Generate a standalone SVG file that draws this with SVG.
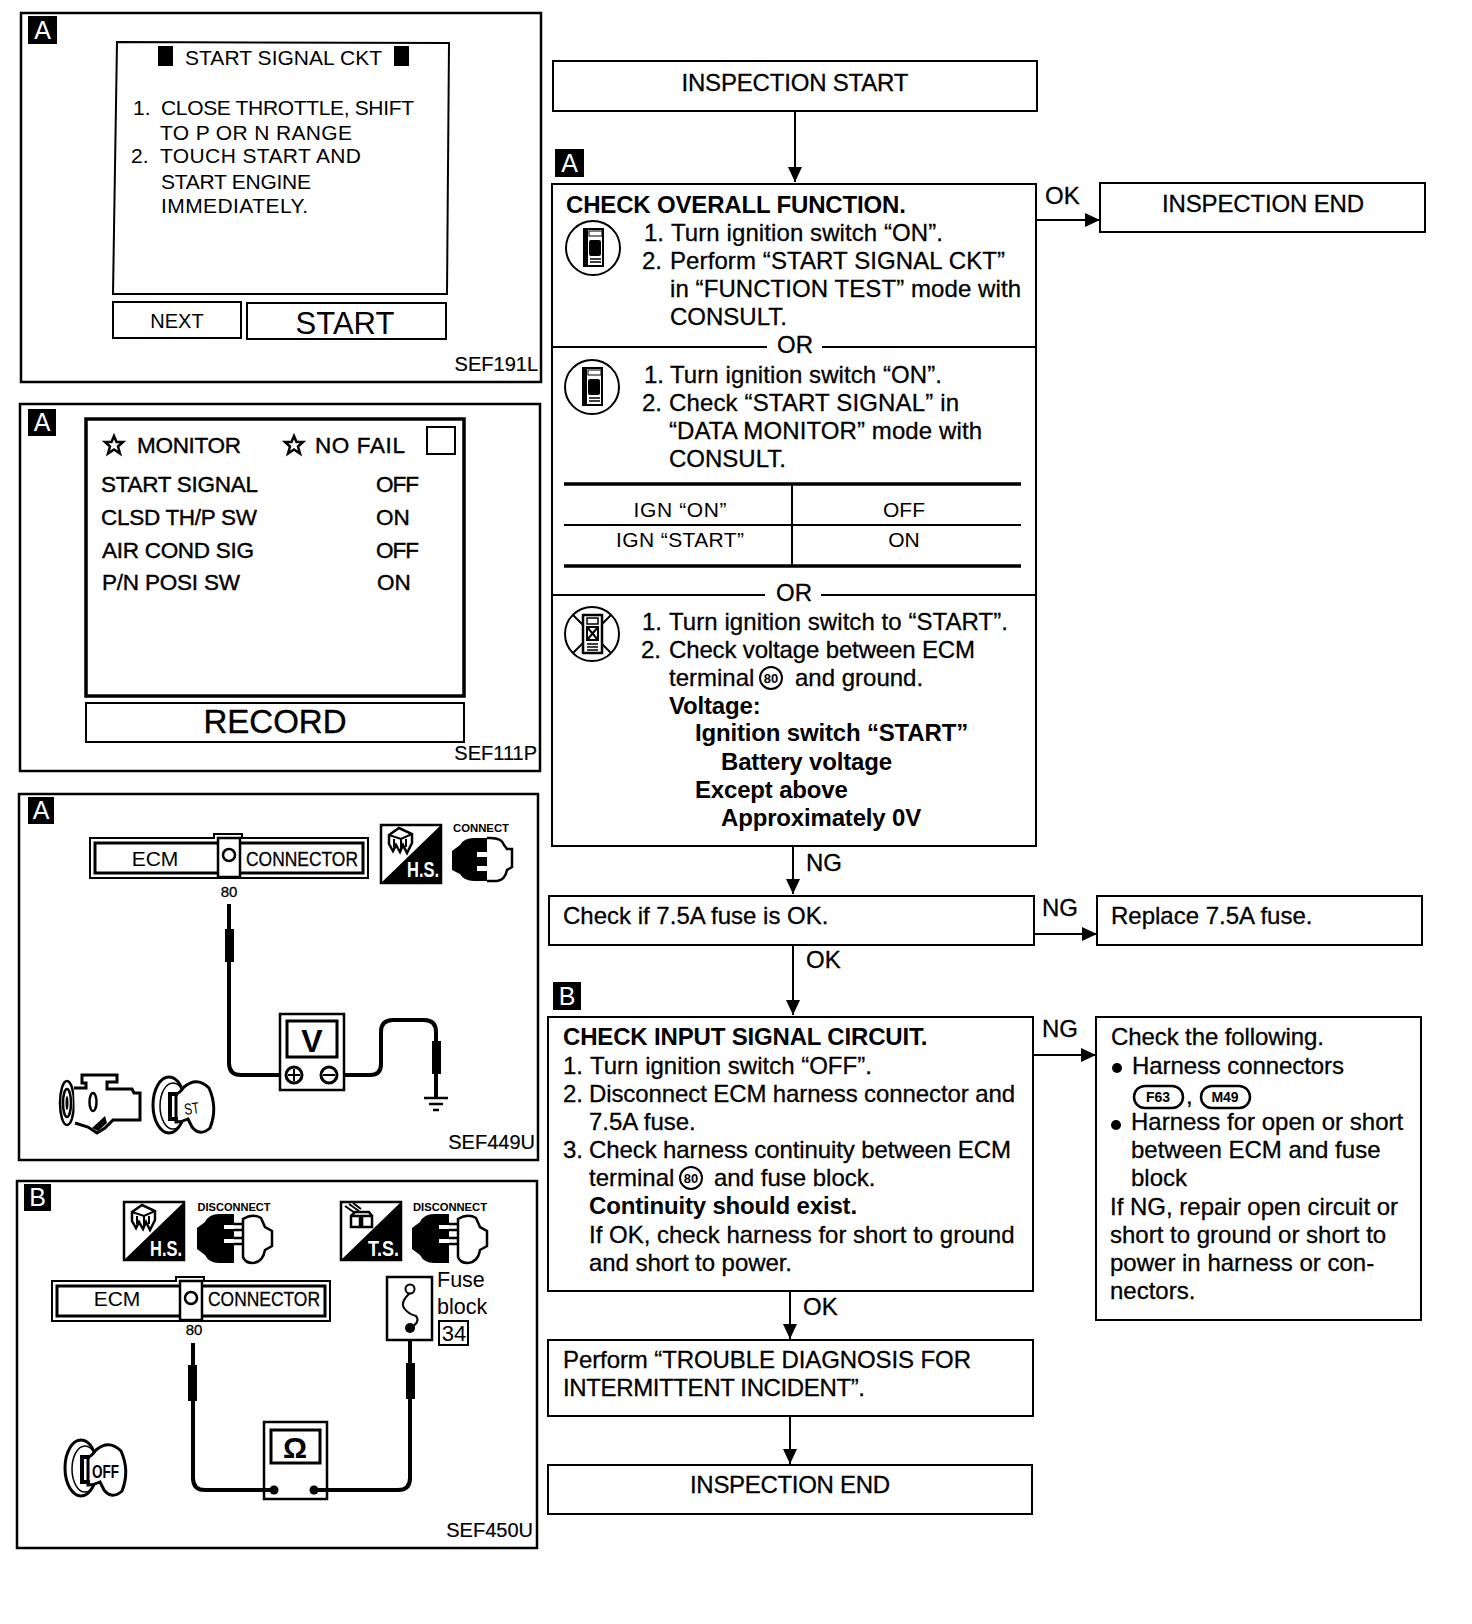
<svg xmlns="http://www.w3.org/2000/svg" xmlns:xlink="http://www.w3.org/1999/xlink" width="1472" height="1624" viewBox="0 0 1472 1624">
<style>
text{font-family:"Liberation Sans",Arial,sans-serif;fill:#000}
.t{font-size:24px;stroke:#000;stroke-width:.3px}
.b{font-size:24px;font-weight:bold;letter-spacing:-.17px}
.m{text-anchor:middle}
.box{fill:#fff;stroke:#000;stroke-width:2}
.pan{fill:#fff;stroke:#000;stroke-width:2.5}
.ln{fill:none;stroke:#000;stroke-width:2}
.w{fill:none;stroke:#000;stroke-width:4;stroke-linejoin:round}
.k{fill:#000}
.sef{font-size:20px;text-anchor:end;stroke:#000;stroke-width:.2px}
.scr{font-size:21px}
.mon{font-size:22.500px;stroke:#000;stroke-width:.4px}
.bt{font-size:25px;fill:#fff}
.tiny{font-size:11px;font-weight:bold;text-anchor:middle}
.wb{font-size:22px;font-weight:bold;fill:#fff}
</style>
<defs>
<marker id="arr" markerUnits="userSpaceOnUse" markerWidth="16" markerHeight="14" refX="15" refY="7" orient="auto"><path d="M0 0L15 7L0 14Z" fill="#000"/></marker>
<g id="device"><rect x="-9" y="-19" width="19" height="37" fill="#fff" stroke="#000" stroke-width="2"/><rect x="-10" y="-19" width="5" height="37" fill="#000"/><rect x="-4" y="-17" width="13" height="5" fill="#fff" stroke="#000" stroke-width="1"/><rect x="-4" y="-8" width="12" height="16" rx="2" fill="#000"/><path d="M-3 11H8M-3 14H8" stroke="#000" stroke-width="1.500"/></g>
<g id="consult"><circle r="27" fill="#fff" stroke="#000" stroke-width="2"/><use xlink:href="#device" href="#device"/></g>
<g id="corner"><path d="M0 0H60V58H0Z" fill="#fff" stroke="#000" stroke-width="2.500"/><path d="M60 0V58H0Z" fill="#000"/></g>
<g id="heat"><path d="M8 10L18 3L31 9V18L26 28L22 20L19 27L15 20L12 26L8 19Z" fill="#fff" stroke="#000" stroke-width="2.500"/><path d="M8 10L20 14L31 9M20 14V24M13 14V22M25 14V22" class="ln"/></g>
<g id="cubes"><path d="M4 4L14 11M8 2L18 9M12 1L20 7" class="ln"/><path d="M10 14H19V25H10ZM21 14H31V25H21ZM10 14L14 10H28L31 14" fill="#fff" stroke="#000" stroke-width="2.500"/></g>
<g id="plugon"><path d="M8 8Q12 1 22 1H35V15H25V20H35V29H25V34H35V44H22Q12 44 8 37L0 33V14Z" fill="#000"/><path d="M35 1Q50 0 52 8L55 12H60V30L55 33Q53 43 45 44H35" fill="#fff" stroke="#000" stroke-width="2.500"/><path d="M35 15H25V20H35M35 29H25V34H35" fill="#fff"/></g>
<g id="plugoff"><path d="M8 9Q12 1 22 1H37V12H27V16H37V26H27V30H37V50H22Q12 50 8 42L0 36V15Z" fill="#000"/><path d="M46 6Q56 0 64 5L68 14L75 18V33L68 37Q66 49 56 50Q48 50 46 44V6Z" fill="#fff" stroke="#000" stroke-width="2.500"/><path d="M37 11H47M37 17H47M37 25H47M37 31H47" stroke="#000" stroke-width="2.500"/></g>
<g id="key"><ellipse cx="17" cy="30" rx="16" ry="28" fill="#fff" stroke="#000" stroke-width="3"/><ellipse cx="21" cy="31" rx="13" ry="23" fill="none" stroke="#000" stroke-width="1.500"/><path d="M32 12Q45 1 57 13Q66 33 58 53Q48 62 40 52L36 44Q30 47 24 47V19Q28 18 32 12Z" fill="#fff" stroke="#000" stroke-width="3"/><path d="M26 19H18V44H26" fill="none" stroke="#000" stroke-width="4"/></g>
<g id="conn"><path d="M0 4H124V0H152V4H278V44H0Z" fill="#fff" stroke="#000" stroke-width="2"/><rect x="5" y="9" width="268" height="30" fill="#fff" stroke="#000" stroke-width="3"/><rect x="128" y="4" width="22" height="39" fill="#fff" stroke="#000" stroke-width="2.500"/><circle cx="139" cy="21" r="6" fill="#fff" stroke="#000" stroke-width="2.500"/></g>
</defs>
<rect width="1472" height="1624" fill="#fff"/>

<g id="panel1">
<rect class="pan" x="21" y="13" width="520" height="369"/>
<rect class="k" x="28" y="16" width="29" height="28"/><text class="bt m" x="42.500" y="39">A</text>
<path class="ln" d="M117 42L449 43L447 294H113Z" stroke-width="2.500"/>
<rect class="k" x="158" y="46" width="15" height="20"/><rect class="k" x="394" y="46" width="15" height="20"/>
<text class="scr" x="185" y="65" textLength="197">START SIGNAL CKT</text>
<text class="scr" x="133" y="115">1.</text><text class="scr" x="161" y="115" textLength="253">CLOSE THROTTLE, SHIFT</text>
<text class="scr" x="160" y="140" textLength="192">TO P OR N RANGE</text>
<text class="scr" x="131" y="163">2.</text><text class="scr" x="160" y="163" textLength="201">TOUCH START AND</text>
<text class="scr" x="161" y="189" textLength="150">START ENGINE</text>
<text class="scr" x="161" y="213" textLength="147">IMMEDIATELY.</text>
<rect class="box" x="113" y="302" width="128" height="36"/><text class="m" x="177" y="328" font-size="20">NEXT</text>
<rect class="box" x="247" y="303" width="199" height="36" stroke-width="2.500"/><text class="m" x="345" y="334" font-size="31">START</text>
<text class="sef" x="538" y="371">SEF191L</text>
</g>

<g id="panel2">
<rect class="pan" x="20" y="404" width="520" height="367"/>
<rect class="k" x="28" y="409" width="28" height="27"/><text class="bt m" x="42" y="431">A</text>
<rect x="86" y="419" width="378" height="277" fill="#fff" stroke="#000" stroke-width="3.500"/>
<rect class="box" x="86" y="703" width="378" height="39" stroke-width="3"/><text class="m" x="275" y="733" font-size="33" stroke="#000" stroke-width=".4">RECORD</text>
<path d="M114 436l2.500 6h6.500l-5 4.500 2 7-6-4-6 4 2-7-5-4.500h6.500Z" fill="#fff" stroke="#000" stroke-width="2.500"/>
<path d="M294 436l2.500 6h6.500l-5 4.500 2 7-6-4-6 4 2-7-5-4.500h6.500Z" fill="#fff" stroke="#000" stroke-width="2.500"/>
<text class="mon" x="137" y="453" textLength="104">MONITOR</text><text class="mon" x="315" y="453" textLength="90">NO  FAIL</text>
<rect class="box" x="427" y="427" width="28" height="27" stroke-width="2.500"/>
<text class="mon" x="101" y="492" textLength="157">START SIGNAL</text><text class="mon" x="376" y="492" textLength="43">OFF</text>
<text class="mon" x="101" y="525" textLength="156">CLSD TH/P SW</text><text class="mon" x="376" y="525">ON</text>
<text class="mon" x="102" y="558" textLength="152">AIR COND SIG</text><text class="mon" x="376" y="558" textLength="43">OFF</text>
<text class="mon" x="102" y="590" textLength="138">P/N POSI SW</text><text class="mon" x="377" y="590">ON</text>
<text class="sef" x="537" y="760">SEF111P</text>
</g>

<g id="panel3">
<rect class="pan" x="19" y="794" width="519" height="366"/>
<rect class="k" x="28" y="797" width="26" height="27"/><text class="bt m" x="41" y="819">A</text>
<use xlink:href="#conn" href="#conn" x="90" y="834"/>
<text class="m" x="155" y="866" font-size="21">ECM</text>
<text x="246" y="866" font-size="20" textLength="112" lengthAdjust="spacingAndGlyphs" stroke="#000" stroke-width=".3">CONNECTOR</text>
<text class="m" x="229" y="897" font-size="15" stroke="#000" stroke-width=".3">80</text>
<path class="w" d="M229 904V1063Q229 1075 241 1075H286"/>
<rect class="k" x="225" y="929" width="9" height="33"/>
<path class="w" d="M337 1075H370Q381 1075 381 1064V1032Q381 1020 393 1020H424Q436 1020 436 1032V1098"/>
<rect class="k" x="432" y="1041" width="9" height="33"/>
<path d="M424 1098H448M429 1104H443M433 1110H439" stroke="#000" stroke-width="2.500"/>
<rect x="280" y="1014" width="64" height="76" fill="#fff" stroke="#000" stroke-width="2.500"/>
<rect x="287" y="1021" width="50" height="36" fill="#fff" stroke="#000" stroke-width="3"/>
<text class="m" x="312" y="1052" font-size="32" font-weight="bold">V</text>
<circle cx="294" cy="1075" r="8" fill="#fff" stroke="#000" stroke-width="3"/><path d="M288 1075h12M294 1069v12" stroke="#000" stroke-width="2"/>
<circle cx="329" cy="1075" r="8" fill="#fff" stroke="#000" stroke-width="3"/><path d="M323 1075h12" stroke="#000" stroke-width="2"/>
<use xlink:href="#corner" href="#corner" x="381" y="825"/><use xlink:href="#heat" href="#heat" x="381" y="825"/>
<text class="wb" x="407" y="877" textLength="32" lengthAdjust="spacingAndGlyphs">H.S.</text>
<text class="tiny" x="481" y="832" textLength="56" lengthAdjust="spacingAndGlyphs">CONNECT</text>
<use xlink:href="#plugon" href="#plugon" x="452" y="837"/>
<ellipse cx="67" cy="1103" rx="7" ry="22" fill="#fff" stroke="#000" stroke-width="2.500"/><ellipse cx="67" cy="1103" rx="4" ry="14" fill="none" stroke="#000" stroke-width="2.500"/><ellipse cx="67" cy="1103" rx="1.500" ry="7" fill="#000"/>
<path d="M74 1088H86V1083H82V1075H117V1082H107V1089H132L134 1093H140V1120H113L105 1128L97 1133L88 1127L75 1123" fill="#fff" stroke="#000" stroke-width="3"/>
<ellipse cx="93" cy="1102" rx="3.500" ry="9" fill="#fff" stroke="#000" stroke-width="2.500"/><path d="M92 1128L105 1116L107 1123L98 1131Z" fill="#000"/>
<use xlink:href="#key" href="#key" x="152" y="1075"/>
<text x="185" y="1115" font-size="16" textLength="15" lengthAdjust="spacingAndGlyphs" transform="rotate(-8 185 1115)">ST</text>
<text class="sef" x="535" y="1149">SEF449U</text>
</g>

<g id="panel4">
<rect class="pan" x="17" y="1181" width="520" height="367"/>
<rect class="k" x="24" y="1184" width="27" height="27"/><text class="bt m" x="37.500" y="1206">B</text>
<use xlink:href="#corner" href="#corner" x="124" y="1202"/><use xlink:href="#heat" href="#heat" x="124" y="1202"/>
<text class="wb" x="150" y="1256" textLength="32" lengthAdjust="spacingAndGlyphs">H.S.</text>
<text class="tiny" x="234" y="1211" textLength="73" lengthAdjust="spacingAndGlyphs">DISCONNECT</text>
<use xlink:href="#plugoff" href="#plugoff" x="197" y="1213"/>
<use xlink:href="#corner" href="#corner" x="341" y="1202"/><use xlink:href="#cubes" href="#cubes" x="341" y="1202"/>
<text class="wb" x="368" y="1256" textLength="31" lengthAdjust="spacingAndGlyphs">T.S.</text>
<text class="tiny" x="450" y="1211" textLength="74" lengthAdjust="spacingAndGlyphs">DISCONNECT</text>
<use xlink:href="#plugoff" href="#plugoff" x="412" y="1213"/>
<use xlink:href="#conn" href="#conn" x="52" y="1277"/>
<text class="m" x="117" y="1306" font-size="21">ECM</text>
<text x="208" y="1306" font-size="20" textLength="112" lengthAdjust="spacingAndGlyphs" stroke="#000" stroke-width=".3">CONNECTOR</text>
<text class="m" x="194" y="1335" font-size="15" stroke="#000" stroke-width=".3">80</text>
<path class="w" d="M193 1343V1478Q193 1490 205 1490H274"/>
<rect class="k" x="188" y="1365" width="9" height="36"/>
<rect x="264" y="1422" width="63" height="77" fill="#fff" stroke="#000" stroke-width="2.500"/>
<rect x="271" y="1430" width="49" height="33" fill="#fff" stroke="#000" stroke-width="3"/>
<text class="m" x="295" y="1458" font-size="30" font-weight="bold">Ω</text>
<path class="w" d="M274 1490H264M314 1490H398Q410 1490 410 1478V1340"/>
<rect class="k" x="406" y="1363" width="9" height="36"/>
<circle class="k" cx="274" cy="1490" r="4.500"/><circle class="k" cx="314" cy="1490" r="4.500"/>
<rect x="387" y="1277" width="45" height="63" fill="#fff" stroke="#000" stroke-width="2.500"/>
<path class="ln" d="M410 1293Q400 1302 404 1308Q408 1314 416 1316Q421 1322 410 1328"/>
<circle cx="410" cy="1289" r="4.500" fill="#fff" stroke="#000" stroke-width="2"/>
<circle class="k" cx="410" cy="1328" r="5"/>
<text x="437" y="1287" font-size="21.500">Fuse</text>
<text x="437" y="1314" font-size="21.500">block</text>
<rect class="box" x="439" y="1321" width="29" height="24"/><text class="m" x="454" y="1341" font-size="22">34</text>
<use xlink:href="#key" href="#key" x="64" y="1438"/>
<text x="92" y="1478" font-size="18" font-weight="bold" textLength="27" lengthAdjust="spacingAndGlyphs">OFF</text>
<text class="sef" x="533" y="1537">SEF450U</text>
</g>

<g id="connectors">
<path class="ln" marker-end="url(#arr)" d="M795 111V182"/>
<path class="ln" marker-end="url(#arr)" d="M1036 220H1100"/>
<path class="ln" marker-end="url(#arr)" d="M793 846V894"/>
<path class="ln" marker-end="url(#arr)" d="M1034 934H1097"/>
<path class="ln" marker-end="url(#arr)" d="M793 945V1015"/>
<path class="ln" marker-end="url(#arr)" d="M1033 1055H1096"/>
<path class="ln" marker-end="url(#arr)" d="M790 1291V1339"/>
<path class="ln" marker-end="url(#arr)" d="M790 1416V1464"/>
<text class="t" x="1045" y="204">OK</text>
<text class="t" x="806" y="871">NG</text>
<text class="t" x="1042" y="916">NG</text>
<text class="t" x="806" y="968">OK</text>
<text class="t" x="1042" y="1037">NG</text>
<text class="t" x="803" y="1315">OK</text>
</g>

<g id="start"><rect class="box" x="553" y="61" width="484" height="50"/><text class="t m" x="795" y="91" textLength="227">INSPECTION START</text></g>

<g id="badgeA"><rect class="k" x="555" y="149" width="29" height="28"/><text class="bt m" x="569.500" y="172">A</text></g>

<g id="check-overall">
<rect class="box" x="552" y="184" width="484" height="662"/>
<path class="ln" d="M552 347H767M822 347H1036M552 595H765M821 595H1036"/>
<text class="b" x="566" y="213">CHECK OVERALL FUNCTION.</text>
<use xlink:href="#consult" href="#consult" x="593" y="248"/>
<text class="t" x="644" y="241">1.</text><text class="t" x="671" y="241" textLength="272">Turn ignition switch “ON”.</text>
<text class="t" x="642" y="269">2.</text><text class="t" x="670" y="269" textLength="335">Perform “START SIGNAL CKT”</text>
<text class="t" x="670" y="297" textLength="351">in “FUNCTION TEST” mode with</text>
<text class="t" x="670" y="325">CONSULT.</text>
<text class="t m" x="795" y="353">OR</text>
<use xlink:href="#consult" href="#consult" x="592" y="387"/>
<text class="t" x="644" y="383">1.</text><text class="t" x="670" y="383" textLength="272">Turn ignition switch “ON”.</text>
<text class="t" x="642" y="411">2.</text><text class="t" x="669" y="411" textLength="290">Check “START SIGNAL” in</text>
<text class="t" x="669" y="439" textLength="313">“DATA MONITOR” mode with</text>
<text class="t" x="669" y="467">CONSULT.</text>
<path d="M564 484H1021M564 566H1021" stroke="#000" stroke-width="3.500"/>
<path class="ln" d="M564 525H1021M792 484V566"/>
<text class="m" x="680" y="517" font-size="21" textLength="93">IGN “ON”</text><text class="m" x="904" y="517" font-size="21">OFF</text>
<text class="m" x="680" y="547" font-size="21" textLength="128">IGN “START”</text><text class="m" x="904" y="547" font-size="21">ON</text>
<text class="t m" x="794" y="601">OR</text>
<g transform="translate(592 634)"><circle r="27" fill="#fff" stroke="#000" stroke-width="2"/><path class="ln" d="M-19-19L19 19M19-19L-19 19"/><rect x="-9" y="-19" width="19" height="38" fill="#fff" stroke="#000" stroke-width="2.500"/><rect x="-5" y="-16" width="11" height="6" fill="#fff" stroke="#000" stroke-width="1.500"/><path class="ln" d="M-5-7H6V6H-5ZM-5-7L6 6M6-7L-5 6"/><path d="M-5 10H6M-5 13H6M-5 16H6" stroke="#000" stroke-width="1.500"/></g>
<text class="t" x="642" y="630">1.</text><text class="t" x="669" y="630" textLength="339">Turn ignition switch to “START”.</text>
<text class="t" x="641" y="658">2.</text><text class="t" x="669" y="658" textLength="306">Check voltage between ECM</text>
<text class="t" x="669" y="686">terminal</text><circle cx="771" cy="678" r="11" fill="none" stroke="#000" stroke-width="2"/><text class="m" x="771" y="683" font-size="13" font-weight="bold">80</text><text class="t" x="795" y="686">and ground.</text>
<text class="b" x="669" y="714">Voltage:</text>
<text class="b" x="695" y="741">Ignition switch “START”</text>
<text class="b" x="721" y="770">Battery voltage</text>
<text class="b" x="695" y="798">Except above</text>
<text class="b" x="721" y="826">Approximately 0V</text>
</g>

<g id="end-1"><rect class="box" x="1100" y="183" width="325" height="49"/><text class="t m" x="1263" y="212" textLength="202">INSPECTION END</text></g>
<g id="check-fuse"><rect class="box" x="549" y="896" width="485" height="49"/><text class="t" x="563" y="924">Check if 7.5A fuse is OK.</text></g>
<g id="replace-fuse"><rect class="box" x="1097" y="896" width="325" height="49"/><text class="t" x="1111" y="924">Replace 7.5A fuse.</text></g>
<g id="badgeB"><rect class="k" x="553" y="982" width="28" height="28"/><text class="bt m" x="567" y="1005">B</text></g>

<g id="check-input">
<rect class="box" x="548" y="1017" width="485" height="274"/>
<text class="b" x="563" y="1045">CHECK INPUT SIGNAL CIRCUIT.</text>
<text class="t" x="563" y="1074">1.</text><text class="t" x="590" y="1074">Turn ignition switch “OFF”.</text>
<text class="t" x="563" y="1102">2.</text><text class="t" x="589" y="1102" textLength="426">Disconnect ECM harness connector and</text>
<text class="t" x="589" y="1130">7.5A fuse.</text>
<text class="t" x="563" y="1158">3.</text><text class="t" x="589" y="1158" textLength="422">Check harness continuity between ECM</text>
<text class="t" x="589" y="1186">terminal</text><circle cx="691" cy="1178" r="11" fill="none" stroke="#000" stroke-width="2"/><text class="m" x="691" y="1183" font-size="13" font-weight="bold">80</text><text class="t" x="714" y="1186">and fuse block.</text>
<text class="b" x="589" y="1214">Continuity should exist.</text>
<text class="t" x="589" y="1243">If OK, check harness for short to ground</text>
<text class="t" x="589" y="1271" textLength="203">and short to power.</text>
</g>

<g id="check-following">
<rect class="box" x="1096" y="1017" width="325" height="303"/>
<text class="t" x="1111" y="1045" textLength="213">Check the following.</text>
<circle class="k" cx="1117" cy="1068" r="5"/><text class="t" x="1132" y="1074" textLength="212">Harness connectors</text>
<rect x="1134" y="1086" width="49" height="22" rx="11" fill="#fff" stroke="#000" stroke-width="2.500"/><text class="m" x="1158" y="1102" font-size="14" font-weight="bold">F63</text>
<text class="t" x="1186" y="1104">,</text>
<rect x="1201" y="1086" width="49" height="22" rx="11" fill="#fff" stroke="#000" stroke-width="2.500"/><text class="m" x="1225" y="1102" font-size="14" font-weight="bold">M49</text>
<circle class="k" cx="1116" cy="1125" r="5"/><text class="t" x="1131" y="1130">Harness for open or short</text>
<text class="t" x="1131" y="1158">between ECM and fuse</text>
<text class="t" x="1131" y="1186">block</text>
<text class="t" x="1110" y="1215">If NG, repair open circuit or</text>
<text class="t" x="1110" y="1243">short to ground or short to</text>
<text class="t" x="1110" y="1271">power in harness or con-</text>
<text class="t" x="1110" y="1299">nectors.</text>
</g>

<g id="perform"><rect class="box" x="548" y="1340" width="485" height="76"/><text class="t" x="563" y="1368" textLength="408">Perform “TROUBLE DIAGNOSIS FOR</text><text class="t" x="563" y="1396" textLength="302">INTERMITTENT INCIDENT”.</text></g>
<g id="end-2"><rect class="box" x="548" y="1465" width="484" height="49"/><text class="t m" x="790" y="1493" textLength="200">INSPECTION END</text></g>
</svg>
